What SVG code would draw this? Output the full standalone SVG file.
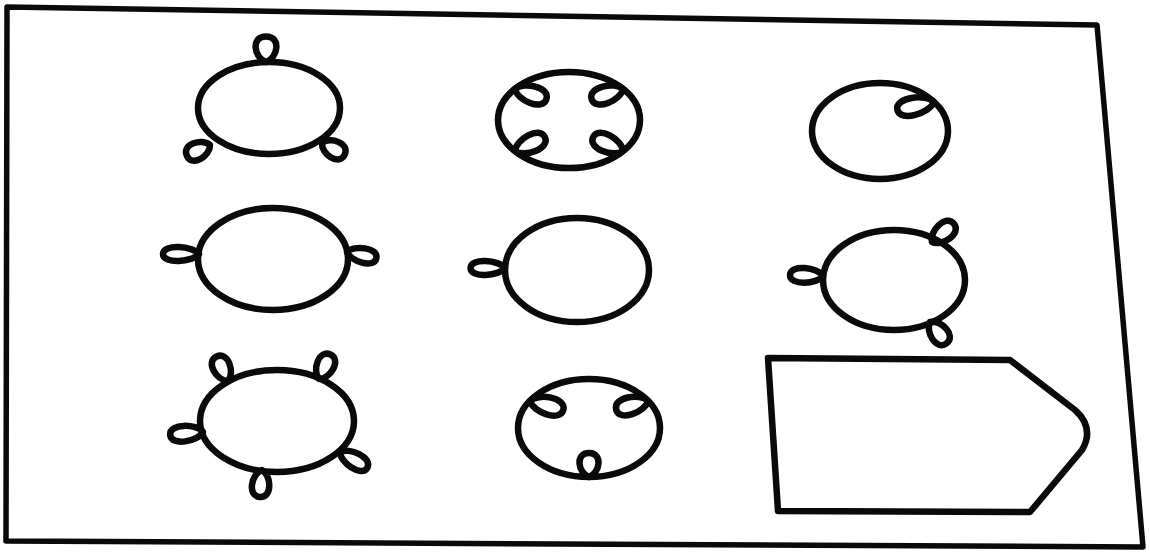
<svg xmlns="http://www.w3.org/2000/svg" xmlns:xlink="http://www.w3.org/1999/xlink" width="1150" height="557" viewBox="0 0 1150 557">
<style>
.s{fill:none;stroke:#0a0a0a;stroke-width:6.5;stroke-linejoin:round;stroke-linecap:round}
.f{fill:none;stroke:#0a0a0a;stroke-width:5.5;stroke-linejoin:round}
</style>
<defs>
<path id="loop" class="s" vector-effect="non-scaling-stroke" d="M0,0 C5,-10 30,-13 30,0 C30,13 5,10 0,0 Z"/>
</defs>
<rect width="1150" height="557" fill="#fff"/>
<g id="frame"><polygon class="f" points="7,7 1097,25 1143,547 6,541"/></g>
<g id="n1">
<ellipse class="s" cx="269" cy="108" rx="71" ry="46"/>
<use xlink:href="#loop" transform="translate(266,62) rotate(-90) scale(0.85,1.2)"/>
<use xlink:href="#loop" transform="translate(210,145) rotate(155) scale(0.85,1)"/>
<use xlink:href="#loop" transform="translate(322,143) rotate(28) scale(0.85,1)"/>
</g>
<g id="n2">
<ellipse class="s" cx="569" cy="120" rx="71" ry="48"/>
<use xlink:href="#loop" transform="translate(515,89) rotate(18) scale(1.1,1)"/>
<use xlink:href="#loop" transform="translate(623,89) rotate(162) scale(1.1,1)"/>
<use xlink:href="#loop" transform="translate(515,151) rotate(-25) scale(1.1,1)"/>
<use xlink:href="#loop" transform="translate(623,151) rotate(-155) scale(1.1,1)"/>
</g>
<g id="n3">
<ellipse class="s" cx="880" cy="131" rx="68" ry="48"/>
<use xlink:href="#loop" transform="translate(934,102) rotate(168) scale(1.25,1)"/>
</g>
<g id="n4">
<ellipse class="s" cx="273" cy="259" rx="75" ry="51"/>
<use xlink:href="#loop" transform="translate(199,254) rotate(180) scale(1.2,0.8)"/>
<use xlink:href="#loop" transform="translate(347,252) rotate(12) scale(1.0,0.85)"/>
</g>
<g id="n5">
<ellipse class="s" cx="577" cy="270" rx="72" ry="52"/>
<use xlink:href="#loop" transform="translate(505,268) rotate(180) scale(1.15,0.8)"/>
</g>
<g id="n6">
<ellipse class="s" cx="894" cy="280" rx="71" ry="50"/>
<use xlink:href="#loop" transform="translate(823,276) rotate(182) scale(1.1,0.85)"/>
<use xlink:href="#loop" transform="translate(932,242) rotate(-40) scale(0.95,1)"/>
<use xlink:href="#loop" transform="translate(930,322) rotate(52) scale(0.9,1)"/>
</g>
<g id="n7">
<ellipse class="s" cx="277" cy="421" rx="77" ry="51"/>
<use xlink:href="#loop" transform="translate(228,381) rotate(-115) scale(0.9,1)"/>
<use xlink:href="#loop" transform="translate(319,379) rotate(-65) scale(0.9,1)"/>
<use xlink:href="#loop" transform="translate(203,432) rotate(175) scale(1.1,0.9)"/>
<use xlink:href="#loop" transform="translate(340,452) rotate(30) scale(1.05,0.9)"/>
<use xlink:href="#loop" transform="translate(262,470) rotate(95) scale(0.9,1)"/>
</g>
<g id="n8">
<ellipse class="s" cx="589" cy="428" rx="71" ry="49"/>
<use xlink:href="#loop" transform="translate(530,401) rotate(15) scale(1.15,1)"/>
<use xlink:href="#loop" transform="translate(648,401) rotate(165) scale(1.1,1)"/>
<use xlink:href="#loop" transform="translate(589,477) rotate(-90) scale(0.8,1.1)"/>
</g>
<g id="n9">
<path class="s" stroke-width="7.5" d="M768,358 L1010,360 L1075,410 Q1095,428 1082,450 L1030,512 L778,511 Z"/>
</g>
<g id="connectors"></g>
</svg>
